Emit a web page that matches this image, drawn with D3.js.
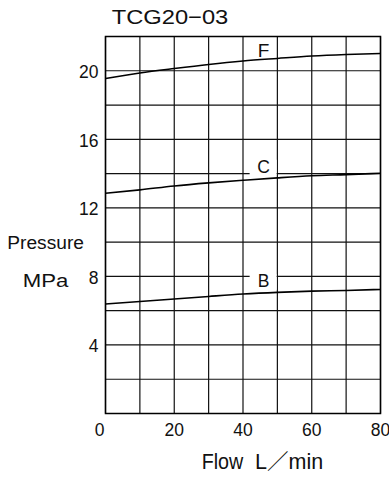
<!DOCTYPE html>
<html><head><meta charset="utf-8">
<script src="https://cdn.jsdelivr.net/npm/d3@7"></script>
<style>
html,body{margin:0;padding:0;background:#fff;}
svg{display:block;font-family:"Liberation Sans","Noto Sans CJK JP",Arial,sans-serif;}
</style></head>
<body>
<svg id="chart" width="389" height="477"></svg>
<script>
// ---- data ----
const flow = [0, 10, 20, 30, 40, 50, 60, 70, 80];
const seriesF = [19.55, 19.87, 20.13, 20.37, 20.57, 20.72, 20.86, 20.95, 21.01];
const seriesC = [12.85, 13.05, 13.28, 13.46, 13.61, 13.75, 13.87, 13.94, 14.02];
const seriesB = [6.39, 6.54, 6.68, 6.83, 6.97, 7.07, 7.14, 7.18, 7.24];
const seriesNames = ["F", "C", "B"];
const labelFlow = [46, 46, 46];
const labelPressure = [20.78, 14.05, 7.36];
const xTicks = [0, 20, 40, 60, 80];
const yTicks = [4, 8, 12, 16, 20];
const xGrid = [0, 10, 20, 30, 40, 50, 60, 70, 80];
const yGrid = [0, 2, 4, 6, 8, 10, 12, 14, 16, 18, 20, 22];
const title = "TCG20−03";

const svg = d3.select("#chart");
const x = d3.scaleLinear().domain([0, 80]).range([105.5, 380.5]);
const y = d3.scaleLinear().domain([0, 22]).range([413.5, 36.5]);

// grid
const g = svg.append("g");
g.selectAll(".vg").data(xGrid).join("line")
  .attr("x1", d => x(d)).attr("x2", d => x(d))
  .attr("y1", y(0)).attr("y2", y(22))
  .attr("stroke", "#111").attr("stroke-width", 1.2);
g.selectAll(".hg").data(yGrid).join("line")
  .attr("x1", x(0)).attr("x2", x(80))
  .attr("y1", d => y(d)).attr("y2", d => y(d))
  .attr("stroke", "#111").attr("stroke-width", 1.2);
g.append("rect").attr("x", x(0)).attr("y", y(22))
  .attr("width", x(80) - x(0)).attr("height", y(0) - y(22))
  .attr("fill", "none").attr("stroke", "#000").attr("stroke-width", 1.5);

// axes (labels only)
const xAxis = svg.append("g").attr("transform", `translate(0,${y(0)})`)
  .call(d3.axisBottom(x).tickValues(xTicks).tickSize(0).tickPadding(10).tickFormat(d3.format("d")));
xAxis.select(".domain").remove();
xAxis.selectAll("text").attr("font-size", 17.5).attr("fill", "#111")
  .attr("font-family", "Liberation Sans, Arial, sans-serif")
  .attr("dx", d => d === 0 ? -6.5 : -0.5);

const yAxis = svg.append("g").attr("transform", `translate(98.5,0)`)
  .call(d3.axisLeft(y).tickValues(yTicks).tickSize(0).tickPadding(0).tickFormat(d3.format("d")));
yAxis.select(".domain").remove();
yAxis.selectAll("text").attr("font-size", 17.5).attr("fill", "#111")
  .attr("font-family", "Liberation Sans, Arial, sans-serif").attr("dy", "0.4em");

// label backgrounds
const seriesVals = [seriesF, seriesC, seriesB];
const labels = seriesNames.map((n, i) => ({name: n, fx: labelFlow[i], p: labelPressure[i], vals: seriesVals[i]}));
const labelSizes = {F: 19, C: 17.5, B: 17.5};
labels.filter(d => d.name !== "F").forEach(d => {
  svg.append("rect")
    .attr("x", x(d.fx) - 14).attr("y", y(d.p) - 13)
    .attr("width", 27).attr("height", 15.5)
    .attr("fill", "#fff");
});

// curves
const line = d3.line().x((d, i) => x(flow[i])).y(d => y(d)).curve(d3.curveMonotoneX);
svg.selectAll(".curve").data(seriesVals).join("path")
  .attr("d", d => line(d))
  .attr("fill", "none").attr("stroke", "#000").attr("stroke-width", 1.6);

// series labels
svg.selectAll(".lbl").data(labels).join("text")
  .attr("x", d => x(d.fx)).attr("y", d => y(d.p))
  .attr("text-anchor", "middle")
  .attr("font-size", d => labelSizes[d.name])
  .attr("fill", "#111")
  .text(d => d.name);

// titles
svg.append("text").attr("x", 111.7).attr("y", 24).attr("font-size", 20.5)
  .attr("textLength", 116.6).attr("lengthAdjust", "spacingAndGlyphs").attr("fill", "#111").text(title);
svg.append("text").attr("x", 7.3).attr("y", 249.3).attr("font-size", 18)
  .attr("textLength", 76.7).attr("lengthAdjust", "spacingAndGlyphs").attr("fill", "#111").text("Pressure");
svg.append("text").attr("x", 22.7).attr("y", 287.3).attr("font-size", 17.5)
  .attr("textLength", 45.6).attr("lengthAdjust", "spacingAndGlyphs").attr("fill", "#111").text("MPa");
svg.append("text").attr("x", 201.7).attr("y", 469.3).attr("font-size", 21.5)
  .attr("textLength", 41.6).attr("lengthAdjust", "spacingAndGlyphs").attr("fill", "#111").text("Flow");
svg.append("text").attr("x", 255).attr("y", 469.3).attr("font-size", 21.5)
  .attr("textLength", 68.3).attr("lengthAdjust", "spacing").attr("fill", "#111").text("L／min");
</script>
</body></html>
